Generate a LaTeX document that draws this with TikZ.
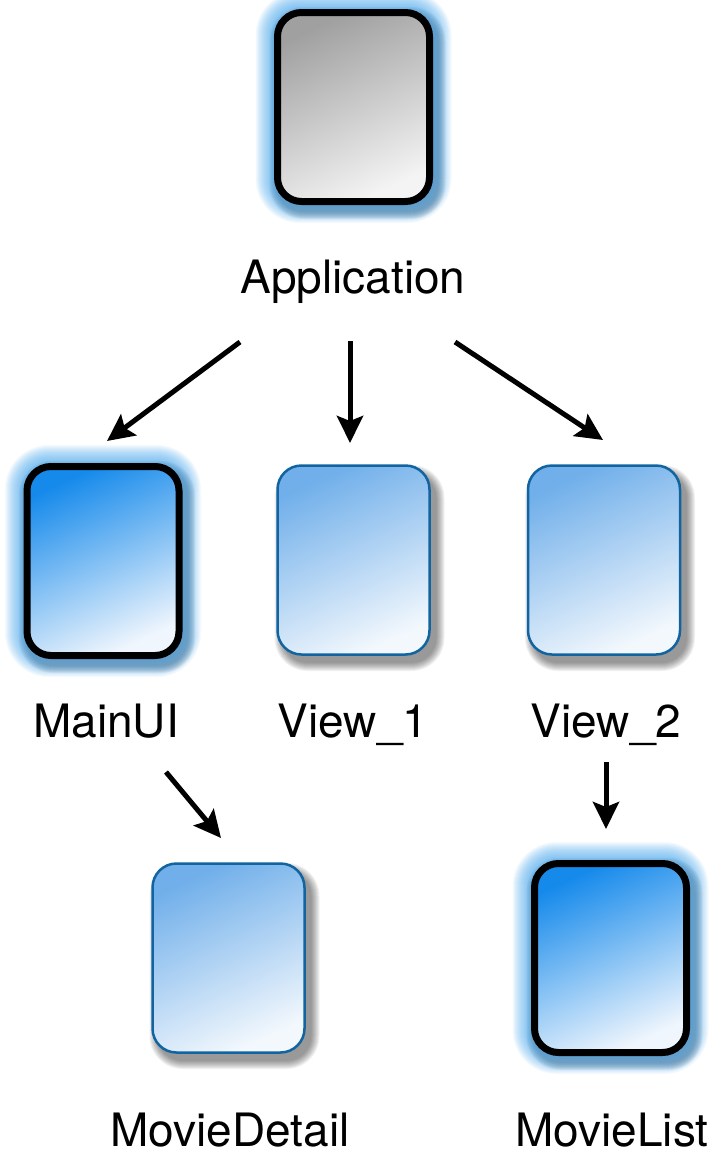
\documentclass[tikz,border=0pt]{standalone}
\usepackage{fontspec}
\setmainfont{TeX Gyre Heros}
\usetikzlibrary{arrows.meta,calc}
\definecolor{glowblue}{RGB}{70,165,235}
\definecolor{thinborder}{RGB}{18,100,160}
\definecolor{graytop}{RGB}{160,160,160}
\definecolor{graybot}{RGB}{244,244,244}
\definecolor{bluetop}{RGB}{22,138,235}
\definecolor{bluebot}{RGB}{240,246,253}
\definecolor{lbluetop}{RGB}{112,175,234}
\definecolor{lbluebot}{RGB}{243,248,253}
\newcommand\myglow[1]{%
  \foreach \k [evaluate=\k as \r using 26+\k] in {1,...,8}{%
    \fill[black, opacity=0.06, rounded corners=\r pt]
      ($(#1)+(-80-\k+4,-98-\k+6)$) rectangle ($(#1)+(80+\k+4,98+\k+6)$);}
  \foreach \k [evaluate=\k as \r using 26+\k] in {1,...,18}{%
    \fill[glowblue, opacity=0.06, rounded corners=\r pt]
      ($(#1)+(-80-\k,-98-\k)$) rectangle ($(#1)+(80+\k,98+\k)$);}
}
\newcommand\myshadow[1]{%
  \foreach \k [evaluate=\k as \r using 24+\k] in {1,...,9}{%
    \fill[black, opacity=0.055, rounded corners=\r pt]
      ($(#1)+(-76-\k+6,-94-\k+8)$) rectangle ($(#1)+(76+\k+6,94+\k+8)$);}
}
\tikzset{
  boxbase/.style={rectangle, rounded corners=24pt, minimum width=152pt, minimum height=189pt, inner sep=0pt},
  thickgray/.style={boxbase, draw=black, line width=7pt, top color=graytop, bottom color=graybot, shading angle=25},
  thickblue/.style={boxbase, draw=black, line width=7pt, top color=bluetop, bottom color=bluebot, shading angle=25},
  thinblue/.style={boxbase, draw=thinborder, line width=2.5pt, top color=lbluetop, bottom color=lbluebot, shading angle=25},
  lbl/.style={anchor=base, inner sep=0pt, font=\fontsize{46}{50}\selectfont},
  conn/.style={line width=5pt, -{Stealth[length=27pt, width=26pt, inset=5pt]}}
}
\begin{document}
\begin{tikzpicture}[x=1pt,y=-1pt]
\useasboundingbox (0,0) rectangle (723,1154);
% positions
\coordinate (pApp) at (353.5,107);
\coordinate (pMain) at (103,561);
\coordinate (pV1) at (353.5,560);
\coordinate (pV2) at (604,560);
\coordinate (pMD) at (228.5,958);
\coordinate (pML) at (610.5,958);
% glows and shadows
\myglow{pApp}
\myglow{pMain}
\myglow{pML}
\myshadow{pV1}
\myshadow{pV2}
\myshadow{pMD}
% boxes
\node[thickgray] (app) at (pApp) {};
\node[thickblue] (mainui) at (pMain) {};
\node[thinblue] (view1) at (pV1) {};
\node[thinblue] (view2) at (pV2) {};
\node[thinblue] (moviedetail) at (pMD) {};
\node[thickblue] (movielist) at (pML) {};
% labels
\node[lbl] (lapp) at (353,293) {Application};
\node[lbl] (lmain) at (106,737) {MainUI};
\node[lbl] (lv1) at (353,737) {View\_1};
\node[lbl] (lv2) at (606,737) {View\_2};
\node[lbl] (lmd) at (230,1146) {MovieDetail};
\node[lbl] (lml) at (612,1146) {MovieList};
% arrow ends
\coordinate (s1) at (240,342); \coordinate (e1) at (107,441);
\coordinate (s2) at (350,341); \coordinate (e2) at (350,443);
\coordinate (s3) at (455,342); \coordinate (e3) at (603,440);
\coordinate (s4) at (166,772); \coordinate (e4) at (221,838);
\coordinate (s5) at (606,762); \coordinate (e5) at (606,829);
\draw[conn] (s1) -- (e1);
\draw[conn] (s2) -- (e2);
\draw[conn] (s3) -- (e3);
\draw[conn] (s4) -- (e4);
\draw[conn] (s5) -- (e5);
\end{tikzpicture}
\end{document}
